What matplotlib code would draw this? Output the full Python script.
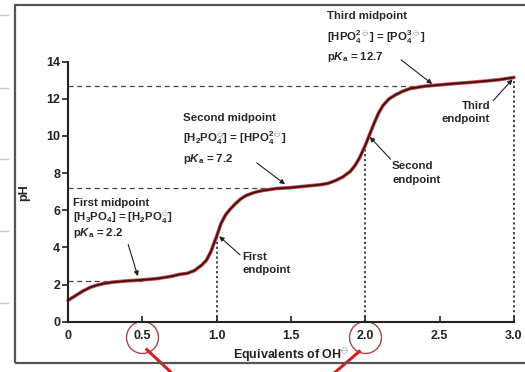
import matplotlib
matplotlib.use("Agg")
import matplotlib.pyplot as plt
from matplotlib.patches import Rectangle
from matplotlib.lines import Line2D

plt.rcParams['font.family'] = ['Liberation Sans', 'DejaVu Sans']
plt.rcParams['font.weight'] = 'bold'
plt.rcParams['mathtext.fontset'] = 'custom'
plt.rcParams['mathtext.rm'] = 'Liberation Sans:bold'
plt.rcParams['mathtext.bf'] = 'Liberation Sans:bold'
plt.rcParams['mathtext.it'] = 'Liberation Sans:italic:bold'
plt.rcParams['mathtext.default'] = 'bf'

# titration curve of phosphoric acid
equiv = [0.0, 0.05, 0.1, 0.15, 0.2, 0.25, 0.3, 0.4, 0.5, 0.6, 0.7, 0.75, 0.8, 0.85,
         0.9, 0.93, 0.96, 1.0, 1.03, 1.06, 1.09, 1.12, 1.16, 1.2, 1.25, 1.3, 1.4, 1.5,
         1.6, 1.7, 1.75, 1.8, 1.85, 1.9, 1.93, 1.96, 2.0, 2.03, 2.06, 2.09, 2.12, 2.16,
         2.2, 2.25, 2.3, 2.4, 2.5, 2.6, 2.7, 2.8, 2.9, 3.0]
ph = [1.15, 1.4, 1.65, 1.85, 1.98, 2.07, 2.13, 2.2, 2.25, 2.32, 2.45, 2.55, 2.6, 2.75,
      3.05, 3.3, 3.75, 4.6, 5.3, 5.75, 6.05, 6.3, 6.6, 6.8, 6.95, 7.05, 7.17, 7.22,
      7.3, 7.38, 7.45, 7.6, 7.8, 8.1, 8.4, 8.8, 9.5, 10.1, 10.7, 11.25, 11.65, 12.0,
      12.2, 12.4, 12.55, 12.68, 12.75, 12.82, 12.88, 12.95, 13.03, 13.15]

# midpoints (dashed) and endpoints (dotted)
mid_x = [0.5, 1.5, 2.4]
pka = [2.2, 7.2, 12.7]
end_x = [1.0, 2.0, 3.0]
end_ph = [4.6, 9.5, 13.15]

xticks = [0, 0.5, 1.0, 1.5, 2.0, 2.5, 3.0]
xticklabels = ['0', '0.5', '1.0', '1.5', '2.0', '2.5', '3.0']
yticks = [0, 2, 4, 6, 8, 10, 12, 14]
circled = [0.5, 2.0]

fig = plt.figure(figsize=(5.25, 3.72), dpi=100)
ax = fig.add_axes([0.1295, 0.1352, 0.8495, 0.699])

# outer frame of the scanned figure
fig.patches.append(Rectangle((0.0286, 0.0242), 1.0, 0.9624, transform=fig.transFigure,
                             fill=False, edgecolor='#555555', lw=1.6, zorder=0))
for yy in [15, 88, 159, 231, 303]:
    fig.lines.append(Line2D([0, 8 / 525], [1 - yy / 372, 1 - yy / 372], transform=fig.transFigure,
                            color='#c8c8c8', lw=1))

for xm, yp in zip(mid_x, pka):
    ax.plot([0, xm], [yp, yp], color='#444444', lw=0.9, ls=(0, (4, 3)), zorder=1)
for xe, ye in zip(end_x, end_ph):
    ax.plot([xe, xe], [0, ye], color='#333333', lw=1.3, ls=(0, (1.2, 1.5)), zorder=1, clip_on=False)

ax.plot(equiv, ph, color='#c84a4a', lw=2.6, solid_capstyle='round', zorder=2, clip_on=False)
ax.plot(equiv, ph, color='#3f1010', lw=1.3, solid_capstyle='round', zorder=3, clip_on=False)

ax.set_xlim(0, 3)
ax.set_ylim(0, 14)
ax.spines['top'].set_visible(False)
ax.spines['right'].set_visible(False)
ax.spines['left'].set_linewidth(1.5)
ax.spines['bottom'].set_linewidth(1.5)
ax.spines['left'].set_color('#222222')
ax.spines['bottom'].set_color('#222222')
ax.set_xticks(xticks)
ax.set_xticklabels(xticklabels)
ax.set_yticks(yticks)
ax.tick_params(axis='x', direction='in', length=4, width=1.2, pad=6, labelsize=9, colors='#222222')
ax.tick_params(axis='y', direction='out', length=4, width=1.2, pad=1.5, labelsize=9, colors='#222222')

ax.set_xlabel(r'Equivalents of OH$^{\ominus}$', fontsize=9, fontweight='bold', color='#222222', labelpad=3)
fig.text(24 / 525, 1 - 193 / 372, 'pH', rotation=90, ha='center', va='center',
         fontsize=9, fontweight='bold', color='#222222')

# red circles drawn on the scan
for xc in circled:
    ax.plot(xc, -0.8, marker='o', ms=23, mfc='none', mec='#a84848', mew=1.0, clip_on=False)
ax.plot([0.53, 0.69], [-1.5, -2.7], color='#d42020', lw=2.2, clip_on=False)
ax.plot([1.96, 1.80], [-1.6, -2.7], color='#d42020', lw=2.2, clip_on=False)

tk = dict(fontsize=8.2, fontweight='bold', color='#262626', va='center', clip_on=False)
arr = dict(arrowstyle='-|>', color='#222222', lw=0.8, mutation_scale=7, shrinkA=0, shrinkB=0)

# third midpoint
ax.text(1.74, 16.45, 'Third midpoint', **tk)
ax.text(1.74, 15.3, r'[HPO$_4^{2\ominus}$] = [PO$_4^{3\ominus}$]', **tk)
ax.text(1.74, 14.25, r'p$\mathit{K}_\mathrm{a}$ = 12.7', **tk)
ax.annotate('', xy=(2.45, 12.8), xytext=(2.24, 14.1), arrowprops=arr)

# third endpoint
ax.text(2.84, 11.6, 'Third', ha='right', **tk)
ax.text(2.84, 10.9, 'endpoint', ha='right', **tk)
ax.annotate('', xy=(2.99, 13.05), xytext=(2.86, 11.9), arrowprops=arr)

# second midpoint
ax.text(0.775, 10.95, 'Second midpoint', **tk)
ax.text(0.775, 9.85, r'[H$_2$PO$_4^{\ominus}$] = [HPO$_4^{2\ominus}$]', **tk)
ax.text(0.775, 8.75, r'p$\mathit{K}_\mathrm{a}$ = 7.2', **tk)
ax.annotate('', xy=(1.46, 7.4), xytext=(1.27, 8.55), arrowprops=arr)

# second endpoint
ax.text(2.18, 8.4, 'Second', **tk)
ax.text(2.18, 7.62, 'endpoint', **tk)
ax.annotate('', xy=(2.03, 9.95), xytext=(2.17, 8.75), arrowprops=arr)

# first midpoint
ax.text(0.036, 6.4, 'First midpoint', **tk)
ax.text(0.036, 5.6, r'[H$_3$PO$_4$] = [H$_2$PO$_4^{\ominus}$]', **tk)
ax.text(0.036, 4.75, r'p$\mathit{K}_\mathrm{a}$ = 2.2', **tk)
ax.annotate('', xy=(0.47, 2.45), xytext=(0.405, 4.15), arrowprops=arr)

# first endpoint
ax.text(1.175, 3.5, 'First', **tk)
ax.text(1.175, 2.78, 'endpoint', **tk)
ax.annotate('', xy=(1.017, 4.6), xytext=(1.157, 3.6), arrowprops=arr)

fig.savefig('out.png', dpi=100)
